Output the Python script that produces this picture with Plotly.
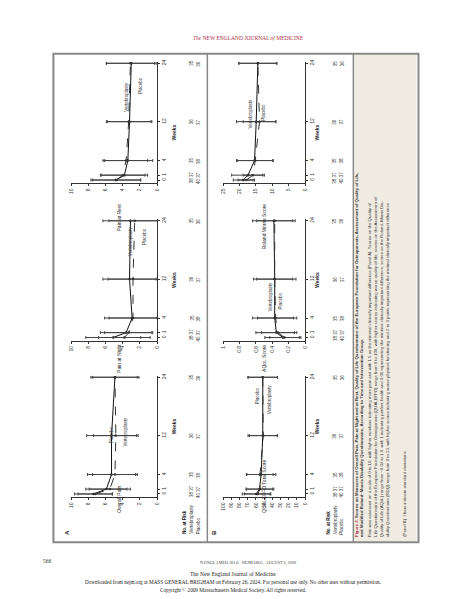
import plotly.graph_objects as go

W, H = 449, 599
weeks = [0, 1, 4, 12, 24]
week_ticks = ["0", "1", "4", "12", "24"]

rest_v = [4.8, 3.8, 3.4, 3.2, 3.0]; rest_p = [4.7, 4.0, 3.6, 3.3, 3.1]
rest_v_sd = [2.9, 2.7, 2.9, 2.6, 2.9]; rest_p_sd = [2.8, 2.6, 2.5, 2.6, 2.8]
night_v = [5.1, 3.6, 2.9, 3.2, 3.1]; night_p = [3.8, 3.3, 2.8, 2.8, 2.6]
night_v_sd = [3.2, 3.0, 3.2, 3.1, 3.2]; night_p_sd = [3.0, 2.8, 2.8, 2.9, 3.0]
overall_v = [7.4, 5.9, 5.3, 5.3, 4.9]; overall_p = [7.2, 5.5, 4.9, 4.8, 4.9]
overall_v_sd = [2.2, 2.4, 2.8, 2.9, 2.8]; overall_p_sd = [2.0, 2.4, 2.6, 2.6, 2.6]
rm_v = [18.9, 17.4, 15.4, 14.9, 14.4]; rm_p = [17.9, 15.9, 15.2, 13.9, 14.4]
rm_v_sd = [3.0, 5.0, 5.5, 6.0, 5.8]; rm_p_sd = [2.5, 3.0, 5.5, 5.0, 5.8]
aq_v = [0.27, 0.35, 0.37, 0.37, 0.38]; aq_p = [0.25, 0.33, 0.36, 0.37, 0.37]
aq_v_sd = [0.22, 0.25, 0.27, 0.26, 0.26]; aq_p_sd = [0.18, 0.2, 0.22, 0.22, 0.22]
qu_v = [59.7, 55.6, 53.6, 51.6, 51.6]; qu_p = [57.7, 55.0, 55.0, 51.0, 51.6]
qu_v_sd = [17, 16, 18, 18, 18]; qu_p_sd = [16, 17, 16, 17, 18]
risk_v = ["38 37", "35", "36", "35"]; risk_p = ["40 37", "38", "37", "36"]
risk_y = [0.5, 4, 12, 24]

FONT = "Liberation Sans"
def px(x): return x / W
def py(y): return 1 - y / H

panels = [
    # (v, p, vsd, psd, max, ticks, title, x0, x1, ybot, ytop, vlab, plab)
    (rest_v, rest_p, rest_v_sd, rest_p_sd, 10, [0,2,4,6,8,10], "Pain at Rest", 61, 148, 174, 52, (113, 70), (126, 65)),
    (night_v, night_p, night_v_sd, night_p_sd, 10, [0,2,4,6,8,10], "Pain at Night", 61, 148, 332, 210, (116, 232), (130, 227)),
    (overall_v, overall_p, overall_v_sd, overall_p_sd, 10, [0,2,4,6,8,10], "Overall Pain", 61, 148, 489, 367, (112, 440), (97, 437)),
    (rm_v, rm_p, rm_v_sd, rm_p_sd, 25, [0,5,10,15,20,25], "Roland Morris Score", 215, 298, 174, 52, (243, 87), (256, 92)),
    (aq_v, aq_p, aq_v_sd, aq_p_sd, 1.0, [0,0.2,0.4,0.6,0.8,1.0], "AQoL Score", 215, 298, 332, 210, (263, 287), (273, 292)),
    (qu_v, qu_p, qu_v_sd, qu_p_sd, 100, list(range(0, 101, 10)), "QUALEFFO Total Score", 215, 298, 489, 367, (262, 390), (250, 387)),
]

fig = go.Figure()
ann = []
shapes = []
for i, (v, p, vsd, psd, mx, ticks, title, x0, x1, yb, yt, vl, pl) in enumerate(panels):
    n = i + 1
    xa = "x" if n == 1 else f"x{n}"
    ya = "y" if n == 1 else f"y{n}"
    for vals, sd, dash, col in [(v, vsd, "solid", "#111"), (p, psd, "dash", "#333")]:
        fig.add_trace(go.Scatter(x=vals, y=weeks, xaxis=xa, yaxis=ya, mode="lines+markers",
                                 line=dict(color=col, width=1, dash=dash), marker=dict(size=2.5, color=col),
                                 error_x=dict(type="data", array=sd, color="#444", thickness=1, width=1.5),
                                 showlegend=False, cliponaxis=False))
    axk = "xaxis" if n == 1 else f"xaxis{n}"
    ayk = "yaxis" if n == 1 else f"yaxis{n}"
    fig.layout[axk] = dict(domain=[px(x0), px(x1)], range=[mx, 0], anchor=ya, tickvals=ticks,
                           tickangle=-90, tickfont=dict(size=5, family=FONT, color="#333"),
                           showgrid=False, zeroline=False, showline=True, linecolor="#333", linewidth=1,
                           ticks="outside", ticklen=2, tickcolor="#333")
    fig.layout[ayk] = dict(domain=[py(yb), py(yt)], range=[-0.7, 24.3], anchor=xa, side="right",
                           tickvals=weeks, ticktext=week_ticks, tickangle=-90,
                           tickfont=dict(size=5, family=FONT, color="#333"),
                           showgrid=False, zeroline=False, showline=True, linecolor="#333", linewidth=1,
                           ticks="outside", ticklen=2, tickcolor="#333")
    cx = (x0 + x1) / 2
    ann.append(dict(x=px(cx), y=py(yb + 18), xref="paper", yref="paper", text=title, textangle=-90,
                    showarrow=False, font=dict(size=5, family=FONT, color="#222")))
    wx = 165 if x0 < 200 else 315
    ann.append(dict(x=px(wx), y=py((yb + yt) / 2), xref="paper", yref="paper", text="<b>Weeks</b>",
                    textangle=-90, showarrow=False, font=dict(size=5, family=FONT, color="#222")))
    rx = (183, 190) if x0 < 200 else (333, 340)
    for t1, t2, yy in zip(risk_v, risk_p, risk_y):
        ann.append(dict(x=px(rx[0]), y=yy, xref="paper", yref=ya, text=t1, textangle=-90, showarrow=False,
                        font=dict(size=4.5, family=FONT, color="#333")))
        ann.append(dict(x=px(rx[1]), y=yy, xref="paper", yref=ya, text=t2, textangle=-90, showarrow=False,
                        font=dict(size=4.5, family=FONT, color="#333")))
    ann.append(dict(x=px(vl[0]), y=py(vl[1]), xref="paper", yref="paper", text="Vertebroplasty", textangle=-90,
                    showarrow=False, font=dict(size=4.5, family=FONT, color="#333")))
    ann.append(dict(x=px(pl[0]), y=py(pl[1]), xref="paper", yref="paper", text="Placebo", textangle=-90,
                    showarrow=False, font=dict(size=4.5, family=FONT, color="#333")))

for base in (0, 150):
    ann.append(dict(x=px(176 + base), y=py(528), xref="paper", yref="paper", text="<b>No. at Risk</b>",
                    textangle=-90, yanchor="bottom", showarrow=False, font=dict(size=4.5, family=FONT, color="#222")))
    ann.append(dict(x=px(183 + base), y=py(528), xref="paper", yref="paper", text="Vertebroplasty",
                    textangle=-90, yanchor="bottom", showarrow=False, font=dict(size=4.5, family=FONT, color="#333")))
    ann.append(dict(x=px(190 + base), y=py(528), xref="paper", yref="paper", text="Placebo",
                    textangle=-90, yanchor="bottom", showarrow=False, font=dict(size=4.5, family=FONT, color="#333")))
ann.append(dict(x=px(51), y=py(529), xref="paper", yref="paper", text="<b>A</b>", textangle=-90,
                showarrow=False, font=dict(size=6, family=FONT, color="#222")))
ann.append(dict(x=px(205), y=py(529), xref="paper", yref="paper", text="<b>B</b>", textangle=-90,
                showarrow=False, font=dict(size=6, family=FONT, color="#222")))

caption = [
    ("<b><span style='color:#b0304a'>Figure 2.</span> Scores on Measures of Overall Pain, Pain at Night and at Rest, Quality of Life Questionnaire of the European Foundation for Osteoporosis, Assessment of Quality of Life,</b>", 354),
    ("<b>and Modified Roland–Morris Disability Questionnaire, According to Time and Intervention Group.</b>", 360),
    ("Pain was assessed on a scale of 0 to 10, with higher numbers indicating more pain and with 1.5 as the minimal clinically important difference (Panel A). Scores on the Quality of", 368),
    ("Life Questionnaire of the European Foundation for Osteoporosis (QUALEFFO) range from 0 to 100, with higher scores indicating worse quality of life; scores on the Assessment of", 374),
    ("Quality of Life (AQoL) range from −0.04 to 1.0, with 1 indicating perfect health and 0.06 representing the minimal clinically important difference; scores on the Roland–Morris Dis-", 380),
    ("ability Questionnaire (RDQ) range from 0 to 23, with higher scores indicating worse physical functioning and 2 to 3 points representing the minimal clinically important difference", 386),
    ("(Panel B). I bars indicate standard deviations.", 404),
]
for t, x in caption:
    ann.append(dict(x=px(x), y=py(531), xref="paper", yref="paper", text=t, textangle=-90, yanchor="bottom",
                    showarrow=False, font=dict(size=4.3, family=FONT, color="#333")))

ann += [
    dict(x=0.535, y=py(23), xref="paper", yref="paper", text="<i>The</i> NEW ENGLAND JOURNAL <i>of</i> MEDICINE",
         showarrow=False, font=dict(size=5.5, family="Liberation Serif", color="#b0304a")),
    dict(x=px(30), y=py(558), xref="paper", yref="paper", text="566", showarrow=False,
         font=dict(size=5.5, family="Liberation Serif", color="#333")),
    dict(x=0.535, y=py(560), xref="paper", yref="paper", text="N ENGL J MED 361;6   NEJM.ORG   AUGUST 6, 2009",
         showarrow=False, font=dict(size=4.2, family="Liberation Serif", color="#444")),
    dict(x=0.5, y=py(571), xref="paper", yref="paper", text="The New England Journal of Medicine",
         showarrow=False, font=dict(size=5.5, family="Liberation Serif", color="#222")),
    dict(x=0.5, y=py(579), xref="paper", yref="paper",
         text="Downloaded from nejm.org at MASS GENERAL BRIGHAM on February 26, 2024. For personal use only. No other uses without permission.",
         showarrow=False, font=dict(size=5.2, family="Liberation Serif", color="#222")),
    dict(x=0.5, y=py(587), xref="paper", yref="paper",
         text="Copyright © 2009 Massachusetts Medical Society. All rights reserved.",
         showarrow=False, font=dict(size=5.2, family="Liberation Serif", color="#222")),
]

shapes += [
    dict(type="rect", xref="paper", yref="paper", x0=px(348), x1=px(411), y0=py(533), y1=py(45),
         fillcolor="#f1ece1", line=dict(width=0), layer="below"),
    dict(type="rect", xref="paper", yref="paper", x0=px(43), x1=px(413), y0=py(534), y1=py(44),
         line=dict(color="#888", width=2)),
    dict(type="line", xref="paper", yref="paper", x0=px(199), x1=px(199), y0=py(534), y1=py(44),
         line=dict(color="#888", width=1.5)),
    dict(type="line", xref="paper", yref="paper", x0=px(347), x1=px(347), y0=py(534), y1=py(44),
         line=dict(color="#888", width=1.5)),
]

fig.update_layout(width=W, height=H, margin=dict(l=0, r=0, t=0, b=0), paper_bgcolor="white",
                  plot_bgcolor="rgba(0,0,0,0)", annotations=ann, shapes=shapes)
fig.write_html("out.html", config={"displayModeBar": False})
